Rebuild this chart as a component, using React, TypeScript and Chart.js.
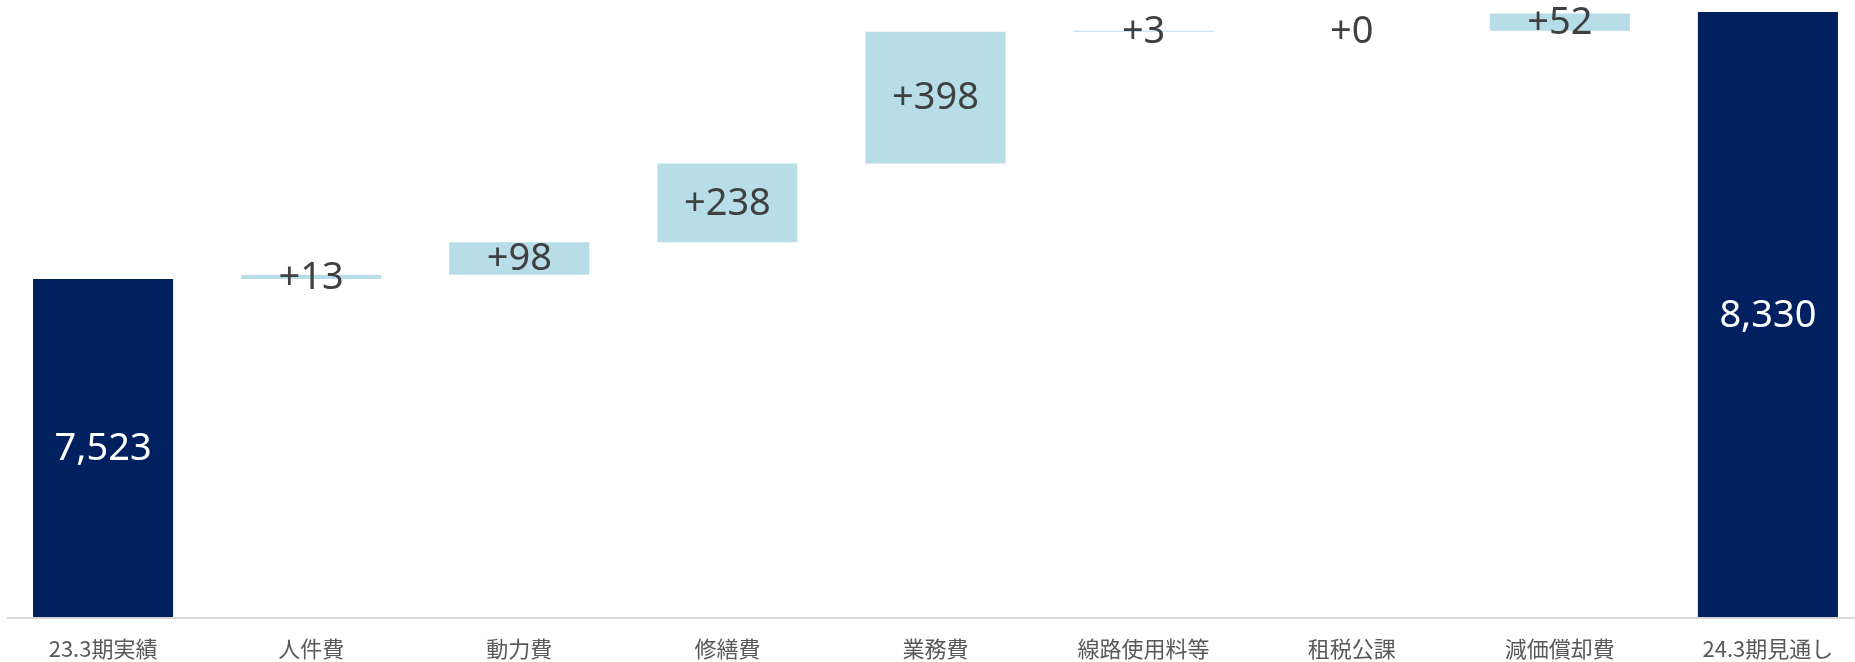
import React, { useEffect, useRef } from "react";
import { Chart, registerables } from "chart.js";

Chart.register(...registerables);

const categories = ["23.3期実績", "人件費", "動力費", "修繕費", "業務費", "線路使用料等", "租税公課", "減価償却費", "24.3期見通し"];
const startTotal = 7523;
const deltas = [13, 98, 238, 398, 3, 0, 52];
const endTotal = 8330;
const axisMin = 6500;
const axisMax = 8366;

const NAVY = "#002060";
const LIGHT = "#b7dee8";

export default function App() {
  const ref = useRef<HTMLCanvasElement | null>(null);

  useEffect(() => {
    if (!ref.current) return;
    const ranges: [number, number][] = [];
    const labels: string[] = [];
    const colors: string[] = [];
    const isTotal: boolean[] = [];
    ranges.push([axisMin, startTotal]);
    labels.push(startTotal.toLocaleString("en-US"));
    colors.push(NAVY);
    isTotal.push(true);
    let cum = startTotal;
    deltas.forEach((d) => {
      ranges.push([cum, cum + d]);
      labels.push("+" + d);
      colors.push(LIGHT);
      isTotal.push(false);
      cum += d;
    });
    ranges.push([axisMin, endTotal]);
    labels.push(endTotal.toLocaleString("en-US"));
    colors.push(NAVY);
    isTotal.push(true);

    const labelPlugin = {
      id: "wfLabels",
      afterDatasetsDraw(chart: any) {
        const ctx = chart.ctx;
        const area = chart.chartArea;
        ctx.save();
        ctx.strokeStyle = "#d0d0d0";
        ctx.lineWidth = 1.5;
        ctx.beginPath();
        ctx.moveTo(8, area.bottom + 0.5);
        ctx.lineTo(chart.width, area.bottom + 0.5);
        ctx.stroke();
        const meta = chart.getDatasetMeta(0);
        ctx.font = "38px 'Noto Sans'";
        ctx.textAlign = "center";
        ctx.textBaseline = "middle";
        meta.data.forEach((el: any, i: number) => {
          const p = el.getProps(["x", "y", "base"], true);
          const cy = (p.y + p.base) / 2;
          ctx.fillStyle = isTotal[i] ? "#ffffff" : "#404040";
          ctx.fillText(labels[i], p.x, cy + 1);
        });
        ctx.restore();
      },
    };

    const chart = new Chart(ref.current, {
      type: "bar",
      data: {
        labels: categories,
        datasets: [
          {
            data: ranges as any,
            backgroundColor: colors,
            borderWidth: 0,
            barPercentage: 0.673,
            categoryPercentage: 1,
          },
        ],
      },
      options: {
        animation: false,
        responsive: false,
        maintainAspectRatio: false,
        layout: { padding: { top: 0, bottom: 3, left: 0, right: 0 } },
        plugins: { legend: { display: false }, tooltip: { enabled: false } },
        scales: {
          x: {
            grid: { display: false, drawTicks: false },
            border: { display: false },
            ticks: {
              color: "#595959",
              font: { family: "'Noto Sans CJK JP'", size: 22, lineHeight: 1.2 },
              padding: 17.5,
              maxRotation: 0,
              autoSkip: false,
            },
          },
          y: {
            display: false,
            min: axisMin,
            max: axisMax,
          },
        },
      },
      plugins: [labelPlugin],
    });
    return () => chart.destroy();
  }, []);

  return (
    <div style={{ position: "fixed", left: -1, top: 0, width: 1873, height: 662, overflow: "hidden", background: "#ffffff" }}>
      <canvas ref={ref} width={1873} height={682} style={{ display: "block" }} />
    </div>
  );
}
